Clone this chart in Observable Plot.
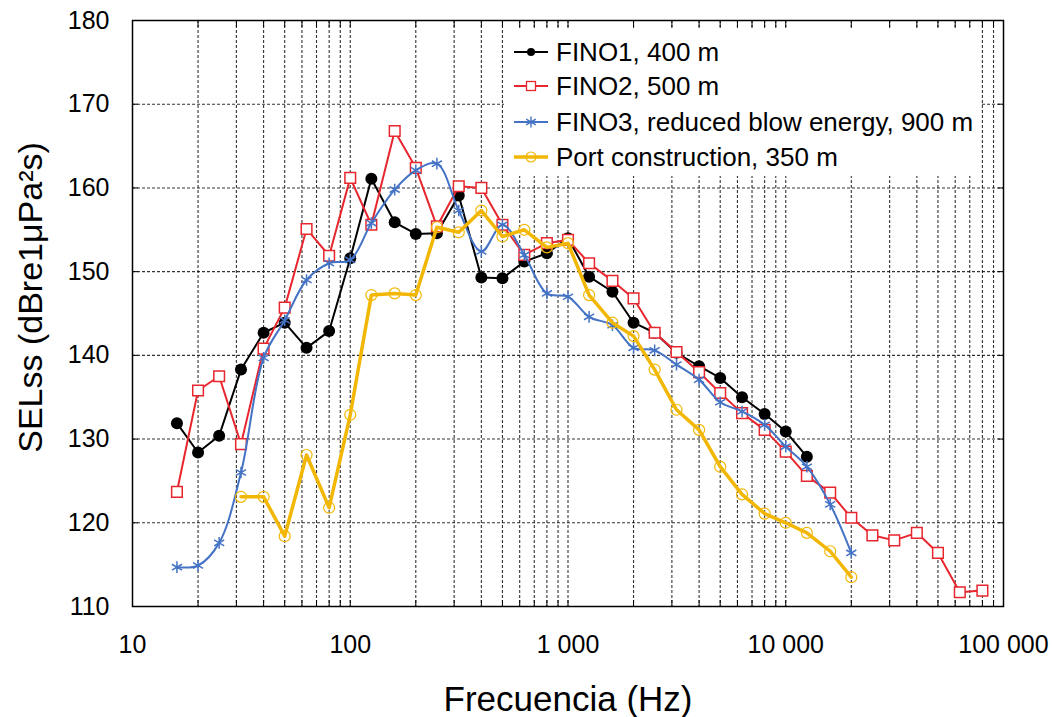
<!DOCTYPE html>
<html><head><meta charset="utf-8">
<script src="https://cdn.jsdelivr.net/npm/d3@7"></script>
<script src="https://cdn.jsdelivr.net/npm/@observablehq/plot@0.6"></script>
<style>
body{margin:0;background:#fff;font-family:"Liberation Sans",Arial,sans-serif;}
#wrap{position:relative;width:1052px;height:717px;}
#legend{position:absolute;left:504px;top:30px;width:476px;height:146px;background:#fff;}
.item{position:absolute;left:0;height:32px;display:flex;align-items:center;font-size:26px;color:#000;white-space:nowrap;}
.item svg{margin-right:4px;}
</style></head><body><div id="wrap"></div>
<script>
// third-octave band centre frequencies (Hz)
const bands = [16,20,25,31.5,40,50,63,80,100,125,160,200,250,315,400,500,630,800,1000,1250,1600,2000,2500,3150,4000,5000,6300,8000,10000,12500,16000,20000,25000,31500,40000,50000,63000,80000];

const seriesNames = ["FINO1, 400 m","FINO2, 500 m","FINO3, reduced blow energy, 900 m","Port construction, 350 m"];
const seriesStart = [16,16,16,31.5];

const fino1 = [131.9,128.4,130.4,138.3,142.7,143.9,140.9,142.9,151.6,161.1,155.9,154.5,154.6,159.1,149.3,149.2,151.2,152.2,154.0,149.4,147.6,143.9,142.7,140.3,138.7,137.3,135.0,133.0,130.9,127.9];
const fino2 = [123.7,135.8,137.5,129.4,140.8,145.7,155.1,151.9,161.2,155.6,166.8,162.4,155.4,160.2,160.0,155.6,152.0,153.4,153.8,151.0,148.9,146.8,142.7,140.4,138.0,135.5,133.1,131.1,128.5,125.6,123.6,120.6,118.5,117.9,118.8,116.4,111.7,111.9];
const fino3 = [114.7,114.9,117.6,126.0,139.7,144.2,149.0,151.0,151.4,155.8,159.8,162.1,162.9,157.3,152.4,155.6,152.0,147.4,147.0,144.6,143.6,140.9,140.6,138.9,137.1,134.4,133.3,131.7,129.1,126.7,122.2,116.4];
const port  = [123.1,123.1,118.4,128.1,121.8,132.9,147.2,147.4,147.2,155.3,154.7,157.3,154.2,155.0,152.9,153.4,147.2,143.9,142.3,138.3,133.5,131.1,126.7,123.4,121.1,120.0,118.8,116.6,113.5];

const xTicks = [10,100,1000,10000,100000];
const yTicks = [110,120,130,140,150,160,170,180];

const colors = ["#000000","#e8262e","#4472c4","#f2b705"];

function toRows(vals, i){
  const s = bands.indexOf(seriesStart[i]);
  return vals.map((v,k)=>({f:bands[s+k], v, s:seriesNames[i]}));
}
const d1 = toRows(fino1,0), d2 = toRows(fino2,1), d3r = toRows(fino3,2), d4 = toRows(port,3);

// minor log ticks
const minor = [];
for (let e=10; e<100000; e*=10) for (let m=1; m<10; m++) minor.push(m*e);
minor.push(100000);
const gridX = minor.filter(v => v>10 && v<100000);
const gridY = yTicks.filter(v => v>110 && v<180);

const fmt = d => d3.format(",")(d).replace(/,/g," ");
const grid = {stroke:"#000", strokeWidth:1.1, strokeDasharray:"3,2", strokeOpacity:0.8};

const chart = Plot.plot({
  width:1052, height:717,
  marginLeft:132, marginRight:49, marginTop:20, marginBottom:111,
  style:{fontFamily:"'Liberation Sans', Arial, sans-serif", background:"#fff", color:"#000"},
  x:{type:"log", domain:[10,100000]},
  y:{domain:[110,180]},
  marks:[
    Plot.ruleX(gridX, grid),
    Plot.ruleY(gridY, grid),
    Plot.axisX({ticks:xTicks, tickFormat:fmt, tickSize:0, tickPadding:29, fontSize:25, label:null}),
    Plot.axisX({ticks:minor, tickFormat:()=>"", tickSize:-6, label:null}),
    Plot.axisX({anchor:"top", ticks:minor, tickFormat:()=>"", tickSize:-6, label:null}),
    Plot.axisY({ticks:yTicks, tickSize:-6, tickPadding:29, fontSize:25, label:null}),
    Plot.axisY({anchor:"right", ticks:yTicks, tickFormat:()=>"", tickSize:-6, label:null}),
    Plot.frame({stroke:"#000", strokeWidth:1.5}),
    // series
    Plot.line(d1, {x:"f", y:"v", stroke:colors[0], strokeWidth:2}),
    Plot.dot(d1, {x:"f", y:"v", fill:colors[0], r:6, symbol:"circle"}),
    Plot.line(d2, {x:"f", y:"v", stroke:colors[1], strokeWidth:2}),
    Plot.dot(d2, {x:"f", y:"v", stroke:colors[1], fill:"white", r:6, symbol:"square", strokeWidth:1.5}),
    Plot.line(d3r, {x:"f", y:"v", stroke:colors[2], strokeWidth:2, curve:"catmull-rom"}),
    Plot.dot(d3r, {x:"f", y:"v", stroke:colors[2], r:5.5, symbol:"asterisk", strokeWidth:1.5}),
    Plot.line(d4, {x:"f", y:"v", stroke:colors[3], strokeWidth:3.5, strokeLinejoin:"round"}),
    Plot.dot(d4, {x:"f", y:"v", stroke:colors[3], fill:"none", r:5.5, symbol:"circle", strokeWidth:1.2}),
    // axis titles
    Plot.text(["Frecuencia (Hz)"], {frameAnchor:"bottom", lineAnchor:"middle", textAnchor:"middle", dy:93, fontSize:35, fill:"#000"}),
    Plot.text(["SELss (dBre1μPa²s)"], {frameAnchor:"left", textAnchor:"middle", lineAnchor:"middle", dx:-101, dy:-16, rotate:-90, fontSize:34, fill:"#000"})
  ]
});
const wrap = document.getElementById("wrap");
wrap.appendChild(chart);

// legend
const legend = document.createElement("div");
legend.id = "legend";
const markers = [
  `<circle cx="27" cy="16" r="4" fill="${colors[0]}"/>`,
  `<rect x="22.5" y="11.5" width="9" height="9" fill="white" stroke="${colors[1]}" stroke-width="1.3"/>`,
  `<path d="M27,10.5V21.5M22.2,13.2L31.8,18.8M22.2,18.8L31.8,13.2" stroke="${colors[2]}" stroke-width="1.4"/>`,
  `<circle cx="27" cy="16" r="5" fill="none" stroke="${colors[3]}" stroke-width="1.2"/>`
];
const widths = [2,2,2,3.5];
const tops = [6,40,76,111];
seriesNames.forEach((name,i)=>{
  const it = document.createElement("div");
  it.className = "item";
  it.style.top = tops[i]+"px";
  it.innerHTML = `<svg width="48" height="32"><line x1="10" x2="44" y1="16" y2="16" stroke="${colors[i]}" stroke-width="${widths[i]}"/>${markers[i]}</svg><span>${name}</span>`;
  legend.appendChild(it);
});
wrap.appendChild(legend);
</script>
</body></html>
